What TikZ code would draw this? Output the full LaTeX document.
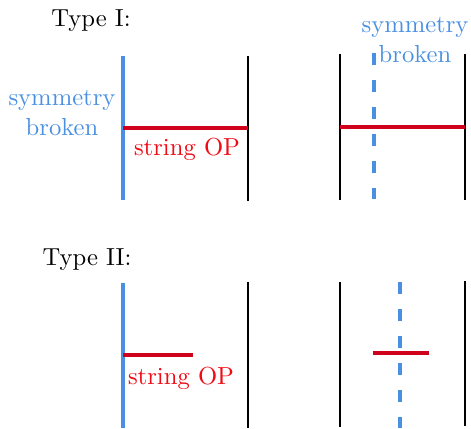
\documentclass[tikz,border=0pt]{standalone}
\definecolor{symblue}{RGB}{74,144,226}
\definecolor{opred}{RGB}{208,2,27}
\definecolor{txtred}{RGB}{240,10,20}
\tikzset{
  bluewall/.style={draw=symblue,line width=1.6pt},
  bluedash/.style={draw=symblue,line width=1.6pt,dash pattern=on 4.9pt off 6.1pt},
  blackwall/.style={draw=black,line width=1.2pt},
  opline/.style={draw=opred,line width=1.5pt},
  bluetxt/.style={text=symblue,align=center,inner sep=0pt},
  redtxt/.style={text=txtred,inner sep=0pt,anchor=base},
  typetxt/.style={inner sep=0pt,anchor=base},
}
\begin{document}
\begin{tikzpicture}[x=0.406pt,y=-0.406pt]
\useasboundingbox (0,0) rectangle (471,428);
% Type I
\node[typetxt] (t1) at (91,27) {Type I:};
\coordinate (a1) at (123,56); \coordinate (a2) at (123,200);
\coordinate (b1) at (248,56); \coordinate (b2) at (248,201);
\draw[bluewall] (a1) -- (a2);
\draw[blackwall] (b1) -- (b2);
\coordinate (r1) at (123,128); \coordinate (r2) at (248,128);
\draw[opline] (r1) -- (r2);
\node[bluetxt] (sb1) at (62,113) {symmetry\\broken};
\node[redtxt] (so1) at (187,155) {string OP};
% Type I right
\coordinate (c1) at (340,54); \coordinate (c2) at (340,200);
\coordinate (d1) at (465,54); \coordinate (d2) at (465,200);
\draw[blackwall] (c1) -- (c2);
\draw[blackwall] (d1) -- (d2);
\coordinate (e1) at (374,53); \coordinate (e2) at (374,199);
\draw[bluedash] (e1) -- (e2);
\coordinate (r3) at (340,127); \coordinate (r4) at (465,127);
\draw[opline] (r3) -- (r4);
\node[bluetxt] (sb2) at (415,40) {symmetry\\broken};
% Type II
\node[typetxt] (t2) at (87,265) {Type II:};
\coordinate (f1) at (123,283); \coordinate (f2) at (123,428);
\coordinate (g1) at (248,282); \coordinate (g2) at (248,428);
\draw[bluewall] (f1) -- (f2);
\draw[blackwall] (g1) -- (g2);
\coordinate (r5) at (123,355); \coordinate (r6) at (193,355);
\draw[opline] (r5) -- (r6);
\node[redtxt] (so2) at (181,384) {string OP};
% Type II right
\coordinate (h1) at (340,282); \coordinate (h2) at (340,427);
\coordinate (i1) at (465,281); \coordinate (i2) at (465,426);
\draw[blackwall] (h1) -- (h2);
\draw[blackwall] (i1) -- (i2);
\coordinate (j1) at (400,282); \coordinate (j2) at (400,428);
\draw[bluedash] (j1) -- (j2);
\coordinate (r7) at (373,353); \coordinate (r8) at (429,353);
\draw[opline] (r7) -- (r8);
\end{tikzpicture}
\end{document}
